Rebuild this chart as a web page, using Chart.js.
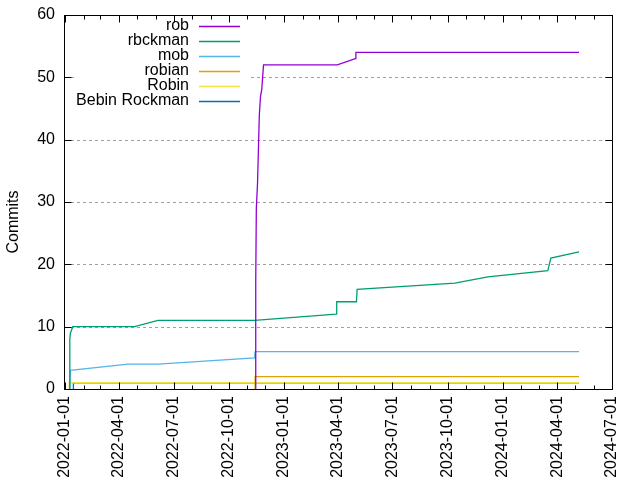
<!DOCTYPE html>
<html><head><meta charset="utf-8">
<script src="https://cdn.jsdelivr.net/npm/chart.js@4/dist/chart.umd.min.js"></script>
<style>html,body{margin:0;padding:0;background:#fff;} canvas{display:block;}</style>
</head><body>
<canvas id="c" width="640" height="480"></canvas>
<script>
// ---- data ----
const seriesNames = ["rob", "rbckman", "mob", "robian", "Robin", "Bebin Rockman"];
const seriesColors = ["#9400d3", "#009e73", "#56b4e9", "#e69f00", "#f0e442", "#0072b2"];

const robDates = ["2022-11-14","2022-11-15","2022-11-16","2022-11-18","2022-11-21","2022-11-23","2022-11-25","2022-11-28","2023-03-31","2023-04-30","2023-05-01","2024-05-07"];
const robCommits = [0, 17, 29, 33, 44, 47, 48, 52, 52, 53, 54, 54];

const rbckmanDates = ["2022-01-08","2022-01-09","2022-01-10","2022-01-14","2022-04-27","2022-06-05","2022-11-13","2023-03-29","2023-03-30","2023-05-02","2023-05-03","2023-10-13","2023-12-07","2024-03-16","2024-03-21","2024-05-07"];
const rbckmanCommits = [0, 8, 9, 10, 10, 11, 11, 12, 14, 14, 16, 17, 18, 19, 21, 22];

const mobDates = ["2022-01-09","2022-01-10","2022-04-16","2022-06-05","2022-11-13","2022-11-14","2024-05-07"];
const mobCommits = [0, 3, 4, 4, 5, 6, 6];

const robianDates = ["2022-11-14","2022-11-14","2024-05-07"];
const robianCommits = [0, 2, 2];

const robinDates = ["2022-01-08","2022-01-08","2024-05-07"];
const robinCommits = [0, 1, 1];

const bebinDates = ["2022-01-15","2022-01-15","2024-05-07"];
const bebinCommits = [0, 1, 1];

const xTickLabels = ["2022-01-01","2022-04-01","2022-07-01","2022-10-01","2023-01-01","2023-04-01","2023-07-01","2023-10-01","2024-01-01","2024-04-01","2024-07-01"];
const yTickValues = [0, 10, 20, 30, 40, 50, 60];
const yTitle = "Commits";

// ---- helpers ----
function dayNum(s) {
  const p = s.split('-').map(Number);
  return (Date.UTC(p[0], p[1] - 1, p[2]) - Date.UTC(2022, 0, 1)) / 86400000;
}
function pts(dates, vals) { return dates.map((d, i) => ({ x: dayNum(d), y: vals[i] })); }

const allDates = [robDates, rbckmanDates, mobDates, robianDates, robinDates, bebinDates];
const allVals = [robCommits, rbckmanCommits, mobCommits, robianCommits, robinCommits, bebinCommits];

const FONT = "'Liberation Sans', Arial, sans-serif";
const FSIZE = 16;

const datasets = seriesNames.map((n, i) => ({
  label: n,
  data: pts(allDates[i], allVals[i]),
  borderColor: seriesColors[i],
  backgroundColor: seriesColors[i],
  borderWidth: 1.3,
  pointRadius: 0,
  tension: 0,
  fill: false
}));

// month starts for minor ticks
function monthStarts() {
  const out = [];
  const a = xTickLabels[0].split('-').map(Number), b = xTickLabels[xTickLabels.length - 1].split('-').map(Number);
  let y = a[0], m = a[1];
  while (y < b[0] || (y === b[0] && m <= b[1])) {
    out.push(y + '-' + String(m).padStart(2, '0') + '-01');
    m++; if (m > 12) { m = 1; y++; }
  }
  return out;
}

const framePlugin = {
  id: 'frame',
  beforeDatasetsDraw(chart) {
    const ctx = chart.ctx, a = chart.chartArea, ys = chart.scales.y;
    // dashed horizontal grid
    ctx.save();
    ctx.strokeStyle = '#a0a0a0';
    ctx.lineWidth = 1;
    ctx.setLineDash([3, 3]);
    yTickValues.forEach(v => {
      if (v === ys.min || v === ys.max) return;
      const y = Math.round(ys.getPixelForValue(v)) + 0.5;
      ctx.beginPath(); ctx.moveTo(a.left, y); ctx.lineTo(a.right, y); ctx.stroke();
    });
    ctx.restore();
    // key (opaque background)
    ctx.save();
    ctx.fillStyle = '#fff';
    ctx.fillRect(76, 16, 175, 93);
    ctx.font = FSIZE + 'px ' + FONT;
    ctx.textAlign = 'right';
    ctx.textBaseline = 'middle';
    chart.data.datasets.forEach((ds, i) => {
      const y = 26 + 15 * i;
      ctx.fillStyle = '#000';
      ctx.fillText(ds.label, 189, y);
      ctx.strokeStyle = ds.borderColor;
      ctx.lineWidth = 1.3;
      ctx.beginPath(); ctx.moveTo(199, Math.round(y) + 0.5); ctx.lineTo(240, Math.round(y) + 0.5); ctx.stroke();
    });
    ctx.restore();
  },
  afterDatasetsDraw(chart) {
    const ctx = chart.ctx, a = chart.chartArea, xs = chart.scales.x, ys = chart.scales.y;
    ctx.save();
    ctx.strokeStyle = '#000';
    ctx.lineWidth = 1;
    const L = Math.round(a.left) - 0.5, R = Math.round(a.right) + 0.5, T = Math.round(a.top) + 0.5, B = Math.round(a.bottom) + 0.5;
    ctx.strokeRect(L, T, R - L, B - T);
    ctx.beginPath();
    // y major ticks, inward on both sides
    yTickValues.forEach(v => {
      const y = Math.round(ys.getPixelForValue(v)) + 0.5;
      ctx.moveTo(L, y); ctx.lineTo(L + 7, y);
      ctx.moveTo(R, y); ctx.lineTo(R - 7, y);
    });
    // x minor (monthly) and major (quarterly) ticks, bottom and top
    const majors = new Set(xTickLabels);
    monthStarts().forEach(d => {
      const len = majors.has(d) ? 7 : 4;
      const x = Math.round(xs.getPixelForValue(dayNum(d))) + 0.5;
      ctx.moveTo(x, B); ctx.lineTo(x, B - len);
      ctx.moveTo(x, T); ctx.lineTo(x, T + len);
    });
    ctx.stroke();
    ctx.restore();
    // y axis title
    ctx.save();
    ctx.font = FSIZE + 'px ' + FONT;
    ctx.fillStyle = '#000';
    ctx.textAlign = 'center';
    ctx.textBaseline = 'middle';
    ctx.translate(14, 222);
    ctx.rotate(-Math.PI / 2);
    ctx.fillText(yTitle, 0, 0);
    ctx.restore();
  }
};

new Chart(document.getElementById('c'), {
  type: 'line',
  data: { datasets },
  options: {
    responsive: false,
    animation: false,
    devicePixelRatio: 1,
    layout: { padding: { left: 0, right: 28, top: 15, bottom: 0 } },
    plugins: { legend: { display: false }, tooltip: { enabled: false } },
    scales: {
      x: {
        type: 'linear',
        min: dayNum(xTickLabels[0]),
        max: dayNum(xTickLabels[xTickLabels.length - 1]),
        afterBuildTicks: s => { s.ticks = xTickLabels.map(l => ({ value: dayNum(l) })); },
        afterFit: s => { s.height = 91; s.paddingLeft = 0; s.paddingRight = 0; s.paddingTop = 0; s.paddingBottom = 0; },
        grid: { display: false, drawTicks: false },
        border: { display: false },
        ticks: {
          autoSkip: false, maxRotation: 90, minRotation: 90, padding: 7,
          color: '#000', font: { family: FONT, size: FSIZE },
          callback: (v, i) => xTickLabels[i]
        }
      },
      y: {
        min: 0, max: 60,
        afterBuildTicks: s => { s.ticks = yTickValues.map(v => ({ value: v })); },
        afterFit: s => { s.width = 65; s.paddingTop = 0; s.paddingBottom = 0; s.paddingLeft = 0; s.paddingRight = 0; },
        grid: { display: false, drawTicks: false },
        border: { display: false },
        ticks: { padding: 10, color: '#000', font: { family: FONT, size: FSIZE } }
      }
    }
  },
  plugins: [framePlugin]
});
</script>
</body></html>
